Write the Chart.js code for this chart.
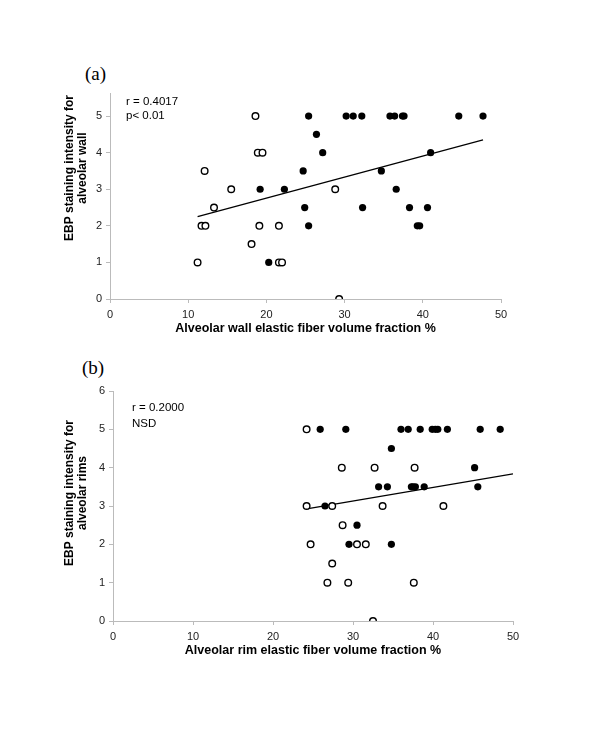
<!DOCTYPE html>
<html>
<head>
<meta charset="utf-8">
<script src="https://cdn.jsdelivr.net/npm/chart.js@4"></script>
<style>
  body { margin: 0; background: #fff; width: 600px; height: 744px; position: relative; overflow: hidden; }
  .box { position: absolute; left: 0; width: 560px; }
  .tag { position: absolute; font-family: "Liberation Serif", "Times New Roman", serif; font-size: 19px; color: #000; }
</style>
</head>
<body>
<div class="tag" style="left:85px; top:63px;">(a)</div>
<div class="tag" style="left:82px; top:357px;">(b)</div>
<div class="box" style="top:60px; height:290px;"><canvas id="chartA"></canvas></div>
<div class="box" style="top:355px; height:320px;"><canvas id="chartB"></canvas></div>
<script>
// (a) alveolar wall
const wallOpenX = [18.6, 18.9, 19.5, 12.1, 15.5, 13.3, 11.7, 12.2, 19.1, 21.6, 18.1, 11.2, 21.6, 22.0, 28.8, 29.3];
const wallOpenY = [5, 4, 4, 3.5, 3, 2.5, 2, 2, 2, 2, 1.5, 1, 1, 1, 3, 0];
const wallFillX = [25.4, 30.2, 31.1, 32.2, 35.8, 36.4, 37.4, 37.6, 44.6, 47.7, 26.4, 27.2, 41.0, 24.7, 34.7, 19.2, 22.3, 36.6, 24.9, 32.3, 38.3, 40.6, 25.4, 39.3, 39.6, 20.3];
const wallFillY = [5, 5, 5, 5, 5, 5, 5, 5, 5, 5, 4.5, 4, 4, 3.5, 3.5, 3, 3, 3, 2.5, 2.5, 2.5, 2.5, 2, 2, 2, 1];
const wallTrendX = [11.2, 47.7];
const wallTrendY = [2.25, 4.35];

// (b) alveolar rims
const rimOpenX = [24.2, 28.6, 32.7, 37.7, 24.2, 27.4, 33.7, 41.3, 28.7, 24.7, 30.5, 31.6, 27.4, 26.8, 29.4, 37.6, 32.5];
const rimOpenY = [5, 4, 4, 4, 3, 3, 3, 3, 2.5, 2, 2, 2, 1.5, 1, 1, 1, 0];
const rimFillX = [25.9, 29.1, 36.0, 36.9, 38.4, 39.9, 40.3, 40.6, 41.8, 45.9, 48.4, 34.8, 45.2, 33.2, 34.3, 37.3, 37.5, 37.8, 38.9, 45.6, 26.5, 30.5, 29.5, 34.8];
const rimFillY = [5, 5, 5, 5, 5, 5, 5, 5, 5, 5, 5, 4.5, 4, 3.5, 3.5, 3.5, 3.5, 3.5, 3.5, 3.5, 3, 2.5, 2, 2];
const rimTrendX = [24.4, 50];
const rimTrendY = [2.93, 3.84];

const xTicks = [0, 10, 20, 30, 40, 50];

const pts = (xs, ys) => xs.map((x, i) => ({ x: x, y: ys[i] }));
const FONT = '"Liberation Sans", Arial, sans-serif';

// r / p notes and the rotated y title
const extraText = {
  id: 'extraText',
  afterDraw(chart, args, o) {
    const c = chart.ctx;
    const a = chart.chartArea;
    c.save();
    c.font = '11.5px ' + FONT;
    c.fillStyle = '#000';
    c.textBaseline = 'middle';
    o.lines.forEach((t, i) => c.fillText(t, a.left + o.dx, a.top + o.dy + i * o.gap));
    c.restore();

    c.save();
    c.font = 'bold ' + o.ySize + 'px ' + FONT;
    c.fillStyle = '#000';
    c.textAlign = 'center';
    c.textBaseline = 'middle';
    c.translate(o.yx, o.ymid);
    c.rotate(-Math.PI / 2);
    o.yTitle.forEach((t, i) => c.fillText(t, 0, i * o.yGap));
    c.restore();
  }
};

function makeChart(id, cfg) {
  return new Chart(document.getElementById(id), {
    type: 'scatter',
    data: {
      datasets: [
        { data: pts(cfg.openX, cfg.openY), pointRadius: 3.3, pointBorderWidth: 1.4,
          pointBackgroundColor: '#fff', pointBorderColor: '#000', pointHoverRadius: 3.3 },
        { data: pts(cfg.fillX, cfg.fillY), pointRadius: 3.6, pointBorderWidth: 0,
          pointBackgroundColor: '#000', pointBorderColor: '#000', pointHoverRadius: 3.6 },
        { type: 'line', data: pts(cfg.trendX, cfg.trendY), borderColor: '#000', borderWidth: 1.2,
          pointRadius: 0, fill: false }
      ]
    },
    options: {
      responsive: true,
      maintainAspectRatio: false,
      animation: false,
      layout: { padding: cfg.padding },
      plugins: {
        legend: { display: false },
        tooltip: { enabled: false },
        extraText: cfg.text
      },
      scales: {
        x: {
          type: 'linear', min: 0, max: 50,
          afterBuildTicks: s => { s.ticks = xTicks.map(v => ({ value: v })); },
          afterFit: s => { s.height = 37; },
          grid: { drawOnChartArea: false, drawTicks: true, tickLength: 4, color: '#bbb' },
          border: { color: '#bbb', width: 1 },
          ticks: { color: '#222', font: { family: FONT, size: 11 }, padding: 5, maxRotation: 0 },
          title: { display: true, text: cfg.xTitle, color: '#000', padding: { top: 0, bottom: 0 },
            font: { family: FONT, size: 12.5, weight: 'bold' } }
        },
        y: {
          type: 'linear', min: 0, max: cfg.yMax,
          afterBuildTicks: s => { s.ticks = cfg.yTicks.map(v => ({ value: v })); },
          afterFit: s => { s.width = cfg.yWidth; },
          grid: { drawOnChartArea: false, drawTicks: true, tickLength: 4, color: '#bbb' },
          border: { color: '#bbb', width: 1 },
          ticks: { color: '#222', font: { family: FONT, size: 11 }, padding: 4 },
          title: { display: false }
        }
      }
    },
    plugins: [extraText]
  });
}

makeChart('chartA', {
  openX: wallOpenX, openY: wallOpenY, fillX: wallFillX, fillY: wallFillY,
  trendX: wallTrendX, trendY: wallTrendY,
  yMax: 5.63, yTicks: [0, 1, 2, 3, 4, 5], yWidth: 48,
  padding: { left: 62, right: 59, top: 33, bottom: 14 },
  xTitle: 'Alveolar wall elastic fiber volume fraction %',
  text: { lines: ['r = 0.4017', 'p< 0.01'], dx: 16, dy: 9, gap: 14,
    yTitle: ['EBP staining intensity for', 'alveolar wall'], ySize: 12, yGap: 13, yx: 70, ymid: 108 }
});

makeChart('chartB', {
  openX: rimOpenX, openY: rimOpenY, fillX: rimFillX, fillY: rimFillY,
  trendX: rimTrendX, trendY: rimTrendY,
  yMax: 6, yTicks: [0, 1, 2, 3, 4, 5, 6], yWidth: 51,
  padding: { left: 62, right: 47, top: 36, bottom: 17 },
  xTitle: 'Alveolar rim elastic fiber volume fraction %',
  text: { lines: ['r = 0.2000', 'NSD'], dx: 19, dy: 17, gap: 16,
    yTitle: ['EBP staining intensity for', 'alveolar rims'], ySize: 12, yGap: 13, yx: 70, ymid: 138 }
});
</script>
</body>
</html>
